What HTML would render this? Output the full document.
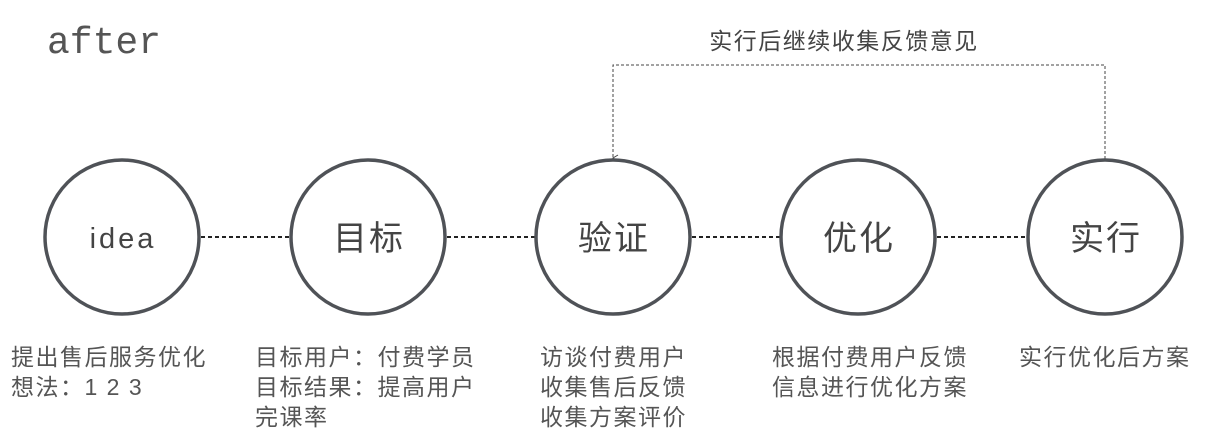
<!DOCTYPE html>
<html><head><meta charset="utf-8"><style>
body{margin:0;background:#fff;width:1207px;height:444px;overflow:hidden;position:relative;font-family:"Liberation Sans","Noto Sans CJK SC",sans-serif;color:#555}
.t{position:absolute;font-size:23px;letter-spacing:1.5px;line-height:30px;color:#555;white-space:nowrap}
</style></head><body>
<svg width="1207" height="444" style="position:absolute;left:0;top:0">
<defs><marker id="a" markerWidth="8" markerHeight="8" refX="4" refY="7" orient="auto" markerUnits="userSpaceOnUse"><path d="M1,2 L4,7 L7,2" fill="none" stroke="#444" stroke-width="1"/></marker></defs>
<text x="47" y="53" font-family="Liberation Mono, monospace" font-size="38" fill="#555">after</text>
<g stroke="#222" stroke-width="2" stroke-dasharray="4,3">
<line x1="201" y1="237" x2="290" y2="237"/>
<line x1="447" y1="237" x2="535" y2="237"/>
<line x1="692" y1="237" x2="780" y2="237"/>
<line x1="937" y1="237" x2="1027" y2="237"/>
</g>
<path d="M1105,159 V65 H613 V158" fill="none" stroke="#444" stroke-width="1" stroke-dasharray="3,2" marker-end="url(#a)"/>
<g fill="none" stroke="#4f5257" stroke-width="3.5">
<circle cx="122" cy="237" r="77"/>
<circle cx="368" cy="237" r="77"/>
<circle cx="613" cy="237" r="77"/>
<circle cx="858" cy="237" r="77"/>
<circle cx="1105" cy="237" r="77"/>
</g>
<g font-size="34" fill="#444" text-anchor="middle" letter-spacing="2" font-family="Liberation Sans, Noto Sans CJK SC, sans-serif">
<text x="123" y="248" font-size="29" letter-spacing="3">idea</text>
<text x="369" y="250">目标</text>
<text x="614" y="250">验证</text>
<text x="859" y="250">优化</text>
<text x="1106" y="250">实行</text>
</g>
<text x="844" y="49" font-size="23" letter-spacing="1.5" fill="#444" text-anchor="middle" font-family="Liberation Sans, Noto Sans CJK SC, sans-serif">实行后继续收集反馈意见</text>
</svg>
<div class="t" style="left:11px;top:342px">提出售后服务优化<br>想法：1 2 3</div>
<div class="t" style="left:255px;top:342px">目标用户：付费学员<br>目标结果：提高用户<br>完课率</div>
<div class="t" style="left:540px;top:342px">访谈付费用户<br>收集售后反馈<br>收集方案评价</div>
<div class="t" style="left:772px;top:342px">根据付费用户反馈<br>信息进行优化方案</div>
<div class="t" style="left:1019px;top:342px">实行优化后方案</div>
</body></html>
